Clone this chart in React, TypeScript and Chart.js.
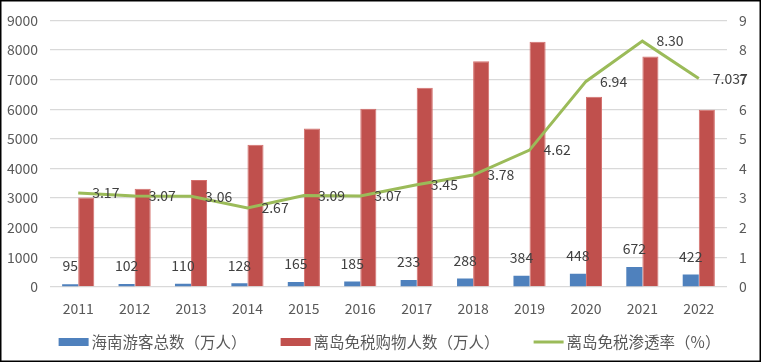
import React, { useEffect, useRef } from "react";
import { Chart, registerables } from "chart.js";

Chart.register(...registerables);

const years = ["2011", "2012", "2013", "2014", "2015", "2016", "2017", "2018", "2019", "2020", "2021", "2022"];
const visitors = [95, 102, 110, 128, 165, 185, 233, 288, 384, 448, 672, 422];
const shoppers = [3020, 3320, 3610, 4800, 5350, 6020, 6730, 7620, 8280, 6420, 7780, 5980];
const rate = [3.17, 3.07, 3.06, 2.67, 3.09, 3.07, 3.45, 3.78, 4.62, 6.94, 8.3, 7.037];
const rateLabels = ["3.17", "3.07", "3.06", "2.67", "3.09", "3.07", "3.45", "3.78", "4.62", "6.94", "8.30", "7.037"];
const seriesNames = ["海南游客总数（万人）", "离岛免税购物人数（万人）", "离岛免税渗透率（%）"];

const FONT = '"Noto Sans CJK SC", "Noto Sans", sans-serif';

const framePlugin = {
  id: "frame",
  beforeDraw(chart: any) {
    const ctx = chart.ctx;
    ctx.save();
    ctx.fillStyle = "#ffffff";
    ctx.fillRect(0, 0, chart.width, chart.height);
    ctx.restore();
  },
  afterDraw(chart: any) {
    const ctx = chart.ctx;
    ctx.save();
    ctx.strokeStyle = "#000000";
    ctx.lineWidth = 1.5;
    ctx.strokeRect(0.75, 0.75, chart.width - 1.5, chart.height - 1.5);
    ctx.restore();
  },
};

const labelPlugin = {
  id: "valueLabels",
  afterDatasetsDraw(chart: any) {
    const ctx = chart.ctx;
    ctx.save();
    ctx.font = `14px ${FONT}`;
    ctx.fillStyle = "#404040";
    ctx.textBaseline = "middle";
    const m0 = chart.getDatasetMeta(0);
    m0.data.forEach((el: any, i: number) => {
      ctx.textAlign = "center";
      ctx.fillText(String(visitors[i]), el.x, el.y - 18);
    });
    const m2 = chart.getDatasetMeta(2);
    m2.data.forEach((el: any, i: number) => {
      ctx.textAlign = "left";
      ctx.fillText(rateLabels[i], el.x + 14, el.y);
    });
    ctx.restore();
  },
};

const legendPlugin = {
  id: "customLegend",
  afterDraw(chart: any) {
    const ctx = chart.ctx;
    ctx.save();
    ctx.font = `15.5px ${FONT}`;
    ctx.textBaseline = "middle";
    ctx.textAlign = "left";
    const boxW = 30;
    const gap = 3;
    const spacing = 34;
    const ds = chart.data.datasets;
    const widths = ds.map((d: any) => ctx.measureText(d.label).width);
    const total = widths.reduce((a: number, b: number) => a + b, 0) + ds.length * (boxW + gap) + (ds.length - 1) * spacing;
    let x = chart.width / 2 - total / 2 + 9;
    const y = chart.chartArea.bottom + 55;
    ds.forEach((d: any, i: number) => {
      if (d.type === "line") {
        ctx.strokeStyle = d.borderColor;
        ctx.lineWidth = 3;
        ctx.beginPath();
        ctx.moveTo(x, y);
        ctx.lineTo(x + boxW, y);
        ctx.stroke();
      } else {
        ctx.fillStyle = d.backgroundColor;
        ctx.fillRect(x, y - 4, boxW, 8);
      }
      x += boxW + gap;
      ctx.fillStyle = "#595959";
      ctx.fillText(d.label, x, y);
      x += widths[i] + spacing;
    });
    ctx.restore();
  },
};

export default function App() {
  const ref = useRef<HTMLCanvasElement | null>(null);

  useEffect(() => {
    document.body.style.margin = "0";
    const canvas = ref.current;
    if (!canvas) return;
    const chart = new Chart(canvas, {
      type: "bar",
      data: {
        labels: years,
        datasets: [
          {
            type: "bar",
            label: seriesNames[0],
            data: visitors,
            backgroundColor: "#4F81BD",
            borderWidth: 0,
            yAxisID: "y",
            order: 1,
            categoryPercentage: 0.57,
            barPercentage: 1.0,
          } as any,
          {
            type: "bar",
            label: seriesNames[1],
            data: shoppers,
            backgroundColor: "#C0504D",
            borderColor: "#D46F6C",
            borderWidth: 1,
            yAxisID: "y",
            order: 1,
            categoryPercentage: 0.57,
            barPercentage: 1.0,
          } as any,
          {
            type: "line",
            label: seriesNames[2],
            data: rate,
            borderColor: "#9BBB59",
            backgroundColor: "#9BBB59",
            borderWidth: 3,
            pointRadius: 0,
            tension: 0,
            yAxisID: "y1",
            order: 0,
          } as any,
        ],
      },
      options: {
        responsive: false,
        animation: false,
        devicePixelRatio: 1,
        layout: { padding: { top: 10, left: 0, right: 0, bottom: 43 } },
        plugins: {
          tooltip: { enabled: false },
          legend: { display: false },
        },
        scales: {
          x: {
            grid: { display: false },
            border: { display: false },
            ticks: { color: "#595959", font: { family: FONT, size: 14 }, padding: 5 },
            afterFit: (s: any) => {
              s.height = 32;
            },
          },
          y: {
            position: "left",
            min: 0,
            max: 9000,
            ticks: {
              stepSize: 1000,
              color: "#595959",
              font: { family: FONT, size: 14 },
              padding: 12,
              callback: (v: any) => String(v),
            },
            grid: { color: "#D9D9D9", lineWidth: 1.3, drawTicks: false },
            border: { display: false },
            afterFit: (s: any) => {
              s.width = 50;
            },
          },
          y1: {
            position: "right",
            min: 0,
            max: 9,
            ticks: { stepSize: 1, color: "#595959", font: { family: FONT, size: 14 }, padding: 12 },
            grid: { display: false, drawTicks: false },
            border: { display: false },
            afterFit: (s: any) => {
              s.width = 34;
            },
          },
        },
      },
      plugins: [framePlugin, labelPlugin, legendPlugin],
    } as any);
    return () => chart.destroy();
  }, []);

  return (
    <div style={{ position: "absolute", left: 0, top: 0, width: 761, height: 362 }}>
      <canvas ref={ref} width={761} height={362} style={{ width: 761, height: 362, display: "block" }} />
    </div>
  );
}
